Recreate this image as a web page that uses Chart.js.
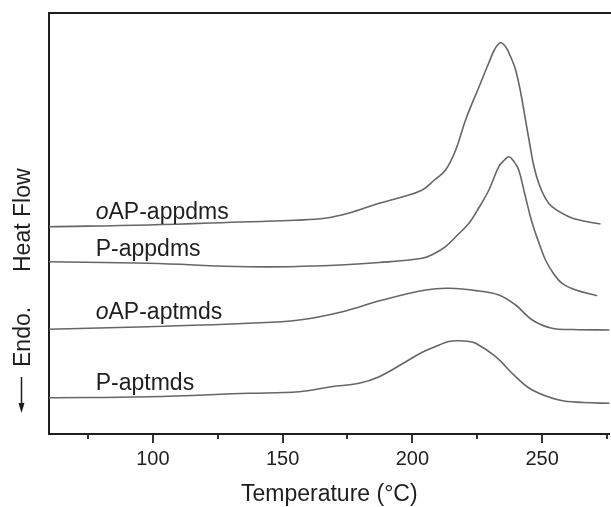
<!DOCTYPE html>
<html>
<head>
<meta charset="utf-8">
<script src="https://cdn.jsdelivr.net/npm/chart.js@4.4.1/dist/chart.umd.min.js"></script>
<style>
    html, body { margin: 0; padding: 0; background: #fff; }
    #wrap { width: 611px; height: 507px; }
</style>
</head>
<body>
<div id="wrap"><canvas id="dsc"></canvas></div>
<script>
// DSC traces, temperature in °C, heat flow in arbitrary units (offset stacked)
const seriesNames = ["oAP-appdms", "P-appdms", "oAP-aptmds", "P-aptmds"];

const tOapAppdms = [60, 98.3, 136.8, 155, 166.3, 175.3, 187.2, 196, 203.8, 208.5, 212.8, 216.7, 220.5, 225.7, 229.6, 231.8, 234, 236, 237.9, 239.8, 241.7, 243.6, 245.5, 246.8, 248.7, 251, 253.8, 260.3, 266, 272.5];
const hfOapAppdms = [207.3, 209, 212.3, 213.8, 215.7, 220.7, 230.7, 237, 244, 254, 264, 284, 314, 347.3, 372, 385, 391.3, 387, 377, 364, 342, 314, 286, 268, 250.7, 237, 227.3, 217.3, 213, 210];

const tPAppdms = [60, 98.3, 136.8, 162.5, 187.2, 203.8, 208.5, 212.8, 217, 221.8, 225.8, 229.5, 233.3, 235.5, 237.2, 239, 241, 243.5, 246.2, 248.8, 251.3, 254.5, 257.7, 263, 271.2];
const hfPAppdms = [172.3, 170.7, 167.3, 168, 171.5, 175.7, 180.5, 187.3, 198, 210.7, 227, 244, 267.3, 274, 277.3, 273, 264, 238, 210.7, 191, 174, 160, 150.7, 144, 138.3];

const tOapAptmds = [60, 98.3, 136.8, 156.4, 173.1, 188.5, 205.2, 214.1, 225.7, 233.3, 239.8, 246.2, 253.8, 262, 276];
const hfOapAptmds = [104.7, 107.3, 110.7, 114, 122.3, 134, 144, 145.7, 143, 139, 129, 114, 105.7, 104.5, 104];

const tPAptmds = [60, 98.3, 136.8, 156.4, 168.7, 179.5, 187.2, 197.5, 204, 210.3, 214, 218, 221, 224.4, 232.1, 239.8, 246.2, 256.5, 266, 276];
const hfPAptmds = [36.3, 37.3, 40.7, 42.3, 47.3, 50.7, 57.3, 72.3, 82, 89, 92.5, 93.3, 92.8, 90.7, 77.3, 57.3, 44, 34, 31.5, 30.7];

const xTicks = [75, 100, 125, 150, 175, 200, 225, 250, 275];

// where each curve name sits (temperature, heat flow)
const labelT = 78;
const labelHf = [215, 178, 115, 44];

const FONT = "'Liberation Sans', Arial, sans-serif";
const INK = "#1e1e1e";
const CURVE = "#666666";

function toPoints(ts, hs) {
    return ts.map((t, i) => ({x: t, y: hs[i]}));
}

const traces = [
    toPoints(tOapAppdms, hfOapAppdms),
    toPoints(tPAppdms, hfPAppdms),
    toPoints(tOapAptmds, hfOapAptmds),
    toPoints(tPAptmds, hfPAptmds),
];

const decor = {
    id: "decor",
    afterDraw(chart) {
        const {ctx, chartArea, scales} = chart;
        ctx.save();

        // top edge of the frame
        ctx.strokeStyle = INK;
        ctx.lineWidth = 2;
        ctx.beginPath();
        ctx.moveTo(chartArea.left - 1, chartArea.top);
        ctx.lineTo(chart.width, chartArea.top);
        ctx.stroke();

        // outward ticks, long at labelled ones
        ctx.lineWidth = 1.8;
        xTicks.forEach((v) => {
            const x = Math.round(scales.x.getPixelForValue(v));
            const len = v % 50 === 0 ? 9 : 5;
            ctx.beginPath();
            ctx.moveTo(x, chartArea.bottom);
            ctx.lineTo(x, chartArea.bottom + len);
            ctx.stroke();
        });

        // curve names, leading "o" in italics
        ctx.fillStyle = INK;
        ctx.textBaseline = "alphabetic";
        ctx.textAlign = "left";
        seriesNames.forEach((name, i) => {
            let x = scales.x.getPixelForValue(labelT);
            const y = scales.y.getPixelForValue(labelHf[i]);
            let rest = name;
            if (name.startsWith("o")) {
                ctx.font = "italic 23px " + FONT;
                ctx.fillText("o", x, y);
                x += ctx.measureText("o").width;
                rest = name.slice(1);
            }
            ctx.font = "23px " + FONT;
            ctx.fillText(rest, x, y);
        });

        // y axis caption: arrow, "Endo." and "Heat Flow"
        ctx.font = "23px " + FONT;
        [["Heat Flow", 272], ["Endo.", 367]].forEach(([txt, yStart]) => {
            ctx.save();
            ctx.translate(30, yStart);
            ctx.rotate(-Math.PI / 2);
            ctx.fillText(txt, 0, 0);
            ctx.restore();
        });
        ctx.strokeStyle = INK;
        ctx.lineWidth = 1.5;
        ctx.beginPath();
        ctx.moveTo(21.5, 377);
        ctx.lineTo(21.5, 405);
        ctx.stroke();
        ctx.beginPath();
        ctx.moveTo(21.5, 413);
        ctx.lineTo(18.5, 403);
        ctx.lineTo(24.5, 403);
        ctx.closePath();
        ctx.fill();

        ctx.restore();
    },
};

new Chart(document.getElementById("dsc"), {
    type: "scatter",
    data: {
        datasets: traces.map((pts, i) => ({
            label: seriesNames[i],
            data: pts,
            showLine: true,
            borderColor: CURVE,
            borderWidth: 1.6,
            pointRadius: 0,
            tension: 0.4,
        })),
    },
    options: {
        responsive: true,
        maintainAspectRatio: false,
        animation: false,
        layout: {padding: {top: 13, right: 0, bottom: 0, left: 0}},
        plugins: {
            legend: {display: false},
            tooltip: {enabled: false},
        },
        scales: {
            x: {
                type: "linear",
                min: 60,
                max: 276,
                afterBuildTicks: (scale) => {
                    scale.ticks = xTicks.map((v) => ({value: v}));
                },
                afterFit: (scale) => { scale.height = 73; },
                grid: {display: false, drawTicks: true, tickLength: 9},
                border: {display: true, color: INK, width: 2},
                ticks: {
                    autoSkip: false,
                    maxRotation: 0,
                    padding: 4,
                    color: INK,
                    font: {family: FONT, size: 20},
                    callback: (v) => (v % 50 === 0 ? String(v) : ""),
                },
                title: {
                    display: true,
                    text: "Temperature (°C)",
                    color: INK,
                    font: {family: FONT, size: 23, lineHeight: 1},
                    padding: {top: 0, bottom: 1},
                },
            },
            y: {
                min: 0,
                max: 421,
                afterFit: (scale) => { scale.width = 49; },
                grid: {display: false},
                border: {display: true, color: INK, width: 2},
                ticks: {display: false},
            },
        },
    },
    plugins: [decor],
});
</script>
</body>
</html>
